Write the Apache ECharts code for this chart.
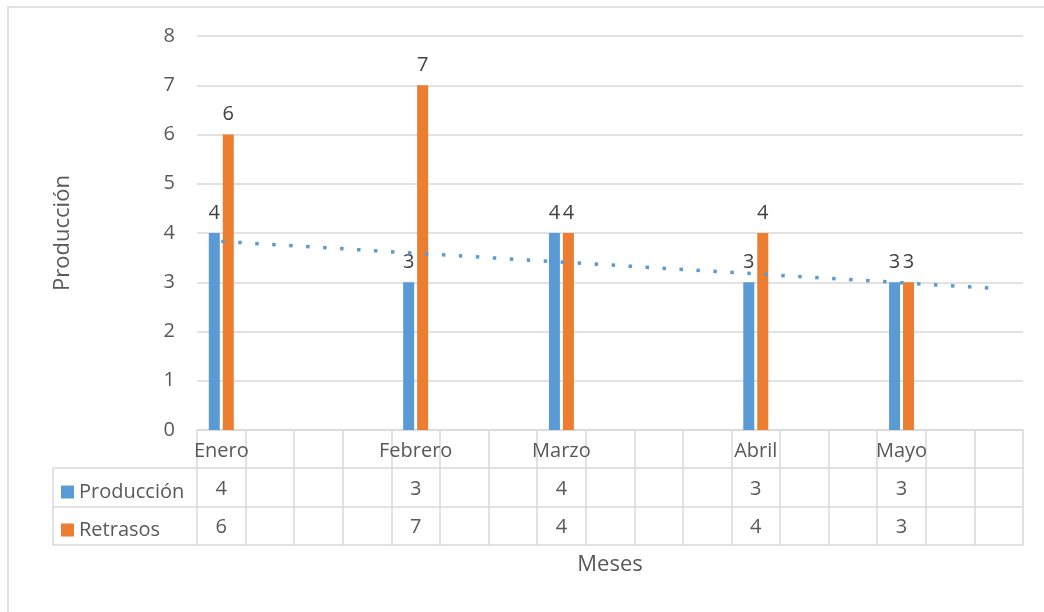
<!DOCTYPE html>
<html>
<head>
<meta charset="utf-8">
<script src="https://cdn.jsdelivr.net/npm/echarts@6/dist/echarts.min.js"></script>
<style>
  html, body { margin: 0; padding: 0; background: #fff; }
  #chart { width: 1044px; height: 612px; }
</style>
</head>
<body>
<div id="chart"></div>
<script>
// categorias del eje (las vacias son columnas sin dato)
var meses = ['Enero', '', '', '', 'Febrero', '', '', 'Marzo', '', '', '', 'Abril', '', '', 'Mayo', '', '']
var produccion = [4, null, null, null, 3, null, null, 4, null, null, null, 3, null, null, 3, null, null]
var retrasos = [6, null, null, null, 7, null, null, 4, null, null, null, 4, null, null, 3, null, null]
// linea de tendencia (lineal): inicio y fin
var tendencia = [3.83, null, null, null, null, null, null, null, null, null, null, null, null, null, null, null, 2.87]
var yTicks = [0, 8, 1]

var font = 'Open Sans'
var gridColor = '#D9D9D9'
var textColor = '#595959'

function cell(v) {
  return v === null || v === undefined ? '' : String(v)
}

var chart = echarts.init(document.getElementById('chart'))
var option = {
  backgroundColor: '#fff',
  animation: false,
  textStyle: { fontFamily: font },
  grid: {
    left: 197,
    right: 21,
    top: 36,
    bottom: 182,
    containLabel: false,
    outerBoundsMode: 'none'
  },
  legend: {
    orient: 'vertical',
    left: 56,
    top: 477,
    itemWidth: 13,
    itemHeight: 13,
    itemGap: 18,
    icon: 'rect',
    data: ['Producción', 'Retrasos'],
    textStyle: { fontFamily: font, fontSize: 20, color: textColor }
  },
  xAxis: {
    type: 'category',
    data: meses,
    name: 'Meses',
    nameLocation: 'middle',
    nameGap: 124,
    nameTextStyle: { fontFamily: font, fontSize: 22, color: textColor },
    axisLine: { lineStyle: { color: gridColor, width: 1.5 } },
    axisTick: { show: true, interval: 0, length: 115, lineStyle: { color: gridColor, width: 1.5 } },
    axisLabel: {
      interval: 0,
      margin: 2,
      fontSize: 20,
      lineHeight: 38,
      color: textColor,
      formatter: function(value, idx) {
        return value + '\n' + cell(produccion[idx]) + '\n' + cell(retrasos[idx])
      }
    }
  },
  yAxis: {
    type: 'value',
    min: yTicks[0],
    max: yTicks[1],
    interval: yTicks[2],
    name: 'Producción',
    nameLocation: 'middle',
    nameGap: 123,
    nameTextStyle: { fontFamily: font, fontSize: 22, color: textColor },
    axisLine: { show: false },
    axisTick: { show: false },
    axisLabel: { fontSize: 20, color: textColor, margin: 22 },
    splitLine: { lineStyle: { color: gridColor, width: 1.5 } }
  },
  series: [
    {
      name: 'Producción',
      type: 'bar',
      data: produccion,
      barWidth: 11,
      barGap: '27%',
      itemStyle: { color: '#5B9BD5' },
      label: { show: true, position: 'top', distance: 10, fontSize: 20, color: '#404040' }
    },
    {
      name: 'Retrasos',
      type: 'bar',
      data: retrasos,
      barWidth: 11,
      barGap: '27%',
      itemStyle: { color: '#ED7D31' },
      label: { show: true, position: 'top', distance: 10, fontSize: 20, color: '#404040' }
    },
    {
      name: 'Tendencia',
      type: 'line',
      data: tendencia,
      connectNulls: true,
      symbol: 'none',
      silent: true,
      z: 5,
      lineStyle: { color: '#5B9BD5', width: 3.5, type: [3.5, 13.5], cap: 'butt' }
    }
  ],
  graphic: [
    // marco del grafico
    { type: 'rect', shape: { x: 8, y: 7, width: 1100, height: 700 }, style: { fill: null, stroke: gridColor, lineWidth: 1.5 }, silent: true },
    // lineas de la tabla de datos
    { type: 'line', shape: { x1: 53, y1: 468, x2: 1023, y2: 468 }, style: { stroke: gridColor, lineWidth: 1.5 }, silent: true },
    { type: 'line', shape: { x1: 53, y1: 507, x2: 1023, y2: 507 }, style: { stroke: gridColor, lineWidth: 1.5 }, silent: true },
    { type: 'line', shape: { x1: 53, y1: 545, x2: 1023, y2: 545 }, style: { stroke: gridColor, lineWidth: 1.5 }, silent: true },
    { type: 'line', shape: { x1: 53, y1: 468, x2: 53, y2: 545 }, style: { stroke: gridColor, lineWidth: 1.5 }, silent: true }
  ]
}
chart.setOption(option)
</script>
</body>
</html>
